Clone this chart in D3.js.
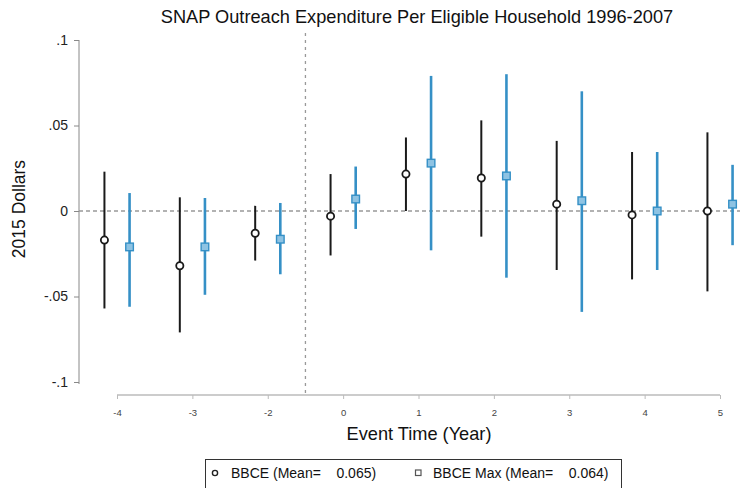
<!DOCTYPE html>
<html><head><meta charset="utf-8">
<script src="https://cdn.jsdelivr.net/npm/d3@7"></script>
<style>body{margin:0;background:#fff;}svg{display:block;font-family:"Liberation Sans",Arial,sans-serif;}</style>
</head><body><svg id="c" width="756" height="488"></svg>
<script>
const categories = ["-4","-3","-2","0","1","2","3","4","5"];
const bbcePoint = [-0.017,-0.032,-0.013,-0.003,0.0216,0.0193,0.004,-0.0023,0.000];
const bbceLow   = [-0.057,-0.071,-0.029,-0.026,0.000,-0.015,-0.0345,-0.040,-0.047];
const bbceHigh  = [0.023,0.008,0.003,0.0216,0.043,0.053,0.041,0.0345,0.046];
const maxPoint  = [-0.021,-0.021,-0.0165,0.007,0.028,0.0205,0.006,0.000,0.004];
const maxLow    = [-0.056,-0.049,-0.037,-0.0105,-0.023,-0.039,-0.059,-0.0345,-0.020];
const maxHigh   = [0.0105,0.0076,0.0047,0.026,0.079,0.080,0.070,0.0345,0.027];
const yTicks = [0.1,0.05,0,-0.05,-0.1];
const yTickLabels = [".1",".05","0","-.05","-.1"];
const legendLabels = ["BBCE (Mean=    0.065)","BBCE Max (Mean=    0.064)"];

const svg = d3.select("#c");
const x = d3.scalePoint().domain(categories).range([117,720]);
const y = d3.scaleLinear().domain([-0.1,0.1]).range([382,40]);
const off = x.step()/6;
const black = "#1a1a1a", blue = "#3590c6";

// title
svg.append("text").attr("x",417).attr("y",23).attr("text-anchor","middle")
  .attr("font-size",18.2).attr("fill","#111").text("SNAP Outreach Expenditure Per Eligible Household 1996-2007");

// y axis
const ya = svg.append("g").attr("transform","translate(79,0)")
  .call(d3.axisLeft(y).tickValues(yTicks).tickFormat((d,i)=>yTickLabels[i]).tickSize(5).tickPadding(6));
ya.select(".domain").attr("stroke","#888").attr("d","M0,"+y(0.1)+"V"+(y(-0.1)+2));
ya.selectAll(".tick line").attr("stroke","#888");
ya.selectAll(".tick text").attr("font-size",14).attr("fill","#222").attr("font-family","Liberation Sans, Arial, sans-serif");

// x axis
const xa = svg.append("g").attr("transform","translate(0,395)")
  .call(d3.axisBottom(x).tickSize(4).tickPadding(10));
xa.select(".domain").attr("stroke","#999").attr("d","M117,0H720");
xa.selectAll(".tick line").attr("stroke","#bbb");
xa.selectAll(".tick text").attr("font-size",9.5).attr("fill","#444").attr("font-family","Liberation Sans, Arial, sans-serif");

// axis titles
svg.append("text").attr("transform","translate(25,209) rotate(-90)").attr("text-anchor","middle")
  .attr("font-size",17.5).attr("fill","#111").text("2015 Dollars");
svg.append("text").attr("x",419).attr("y",440).attr("text-anchor","middle")
  .attr("font-size",18.2).attr("fill","#111").text("Event Time (Year)");

// reference lines
svg.append("line").attr("x1",79).attr("x2",740).attr("y1",y(0)).attr("y2",y(0))
  .attr("stroke","#999").attr("stroke-width",1.3).attr("stroke-dasharray","4,3");
const xv = (x("-2")+x("0"))/2;
svg.append("line").attr("x1",xv).attr("x2",xv).attr("y1",33).attr("y2",395)
  .attr("stroke","#999").attr("stroke-width",1.3).attr("stroke-dasharray","3,4");

// CI lines
const g = svg.append("g");
g.selectAll(".cib").data(categories).join("line")
  .attr("x1",d=>x(d)-off).attr("x2",d=>x(d)-off)
  .attr("y1",(d,i)=>y(bbceHigh[i])).attr("y2",(d,i)=>y(bbceLow[i]))
  .attr("stroke",black).attr("stroke-width",2);
g.selectAll(".cim").data(categories).join("line")
  .attr("x1",d=>x(d)+off).attr("x2",d=>x(d)+off)
  .attr("y1",(d,i)=>y(maxHigh[i])).attr("y2",(d,i)=>y(maxLow[i]))
  .attr("stroke",blue).attr("stroke-width",2.6);
// markers
g.selectAll(".pb").data(categories).join("circle")
  .attr("cx",d=>x(d)-off).attr("cy",(d,i)=>y(bbcePoint[i])).attr("r",3.6)
  .attr("fill","#fff").attr("stroke",black).attr("stroke-width",1.8);
g.selectAll(".pm").data(categories).join("rect")
  .attr("x",d=>x(d)+off-3.8).attr("y",(d,i)=>y(maxPoint[i])-3.8).attr("width",7.6).attr("height",7.6)
  .attr("fill","#8ec3e3").attr("stroke",blue).attr("stroke-width",1.4);

// legend
const lg = svg.append("g");
lg.append("rect").attr("x",205.5).attr("y",459.5).attr("width",416).attr("height",40)
  .attr("fill","#fff").attr("stroke","#333").attr("stroke-width",1);
lg.append("circle").attr("cx",215).attr("cy",473).attr("r",2.6).attr("fill","none").attr("stroke","#222").attr("stroke-width",1.4);
lg.append("text").attr("x",231).attr("y",478).attr("font-size",14).attr("fill","#111")
  .attr("xml:space","preserve").style("white-space","pre").text(legendLabels[0]);
lg.append("rect").attr("x",415.5).attr("y",470).attr("width",5.5).attr("height",5.5).attr("fill","none").attr("stroke","#555").attr("stroke-width",1.2);
lg.append("text").attr("x",433).attr("y",478).attr("font-size",14).attr("fill","#111")
  .attr("xml:space","preserve").style("white-space","pre").text(legendLabels[1]);
</script></body></html>
